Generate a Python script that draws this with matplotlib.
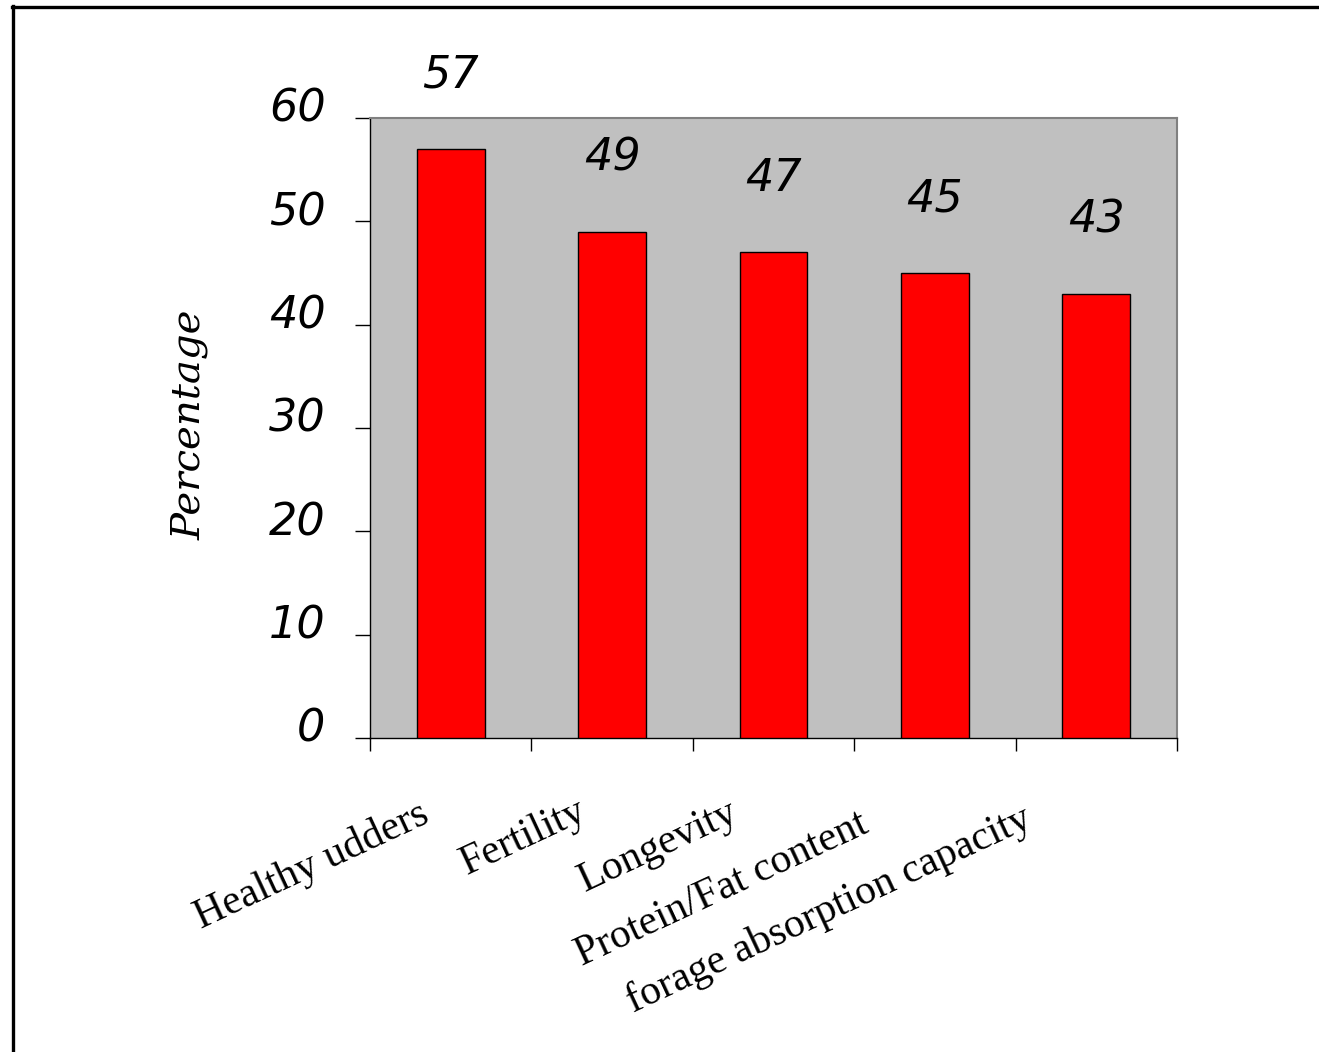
import matplotlib
matplotlib.use('Agg')
import matplotlib.pyplot as plt
from matplotlib.lines import Line2D
from matplotlib.transforms import ScaledTranslation

# Data
categories = ['Healthy udders', 'Fertility', 'Longevity',
              'Protein/Fat content', 'forage absorption capacity']
values = [57, 49, 47, 45, 43]
y_ticks = [0, 10, 20, 30, 40, 50, 60]

# per-label nudges of the rotated category labels (pixels)
label_dx = [-20, -24, -33, -64, -63]
label_dy = [-84, -80, -82, -94, -88]

fig = plt.figure(figsize=(13.19, 10.52), dpi=100)
ax = fig.add_axes([370 / 1319, 1 - 738 / 1052, 807 / 1319, 620 / 1052])
ax.set_facecolor('#c0c0c0')

x = list(range(len(categories)))
ax.bar(x, values, width=0.42, color='#ff0000', edgecolor='black', linewidth=1, zorder=3)

ax.set_xlim(-0.5, len(categories) - 0.5)
ax.set_ylim(0, 60)
ax.set_yticks(y_ticks)
ax.set_yticklabels([str(t) for t in y_ticks], fontsize=32, fontstyle='italic')
ax.tick_params(axis='y', length=11, width=1, pad=21)
for lab in ax.get_yticklabels():
    lab.set_transform(lab.get_transform() + ScaledTranslation(0, 0.13, fig.dpi_scale_trans))

# ticks between categories
ax.set_xticks([i - 0.5 for i in range(len(categories) + 1)])
ax.set_xticklabels([])
ax.tick_params(axis='x', length=9, width=1)

for side in ['top', 'right']:
    ax.spines[side].set_color('#808080')
    ax.spines[side].set_linewidth(1.5)
for side in ['left', 'bottom']:
    ax.spines[side].set_color('black')
    ax.spines[side].set_linewidth(1)

# value labels
for xi, v in zip(x, values):
    ax.annotate(str(v), xy=(xi, v), xytext=(0, 74), textcoords='offset pixels',
                ha='center', va='center', fontsize=32, fontstyle='italic')

# category labels
for xi, name, dx, dy in zip(x, categories, label_dx, label_dy):
    ax.annotate(name, xy=(xi, 0), xycoords=('data', 'axes fraction'),
                xytext=(dx, dy), textcoords='offset pixels',
                ha='right', va='baseline', rotation=25, rotation_mode='anchor',
                fontsize=30, family='Liberation Serif', annotation_clip=False)

fig.text(190 / 1319, 1 - 425 / 1052, 'Percentage', rotation=90, ha='center', va='center',
         fontsize=29, fontstyle='italic', family='DejaVu Serif')

# frame lines at top and left of the picture
fig.add_artist(Line2D([12 / 1319, 1], [1 - 6.5 / 1052, 1 - 6.5 / 1052],
                      transform=fig.transFigure, color='black', linewidth=2.4))
fig.add_artist(Line2D([12.5 / 1319, 12.5 / 1319], [0, 1 - 5.5 / 1052],
                      transform=fig.transFigure, color='black', linewidth=2.4))

fig.savefig('out.png', dpi=100)
